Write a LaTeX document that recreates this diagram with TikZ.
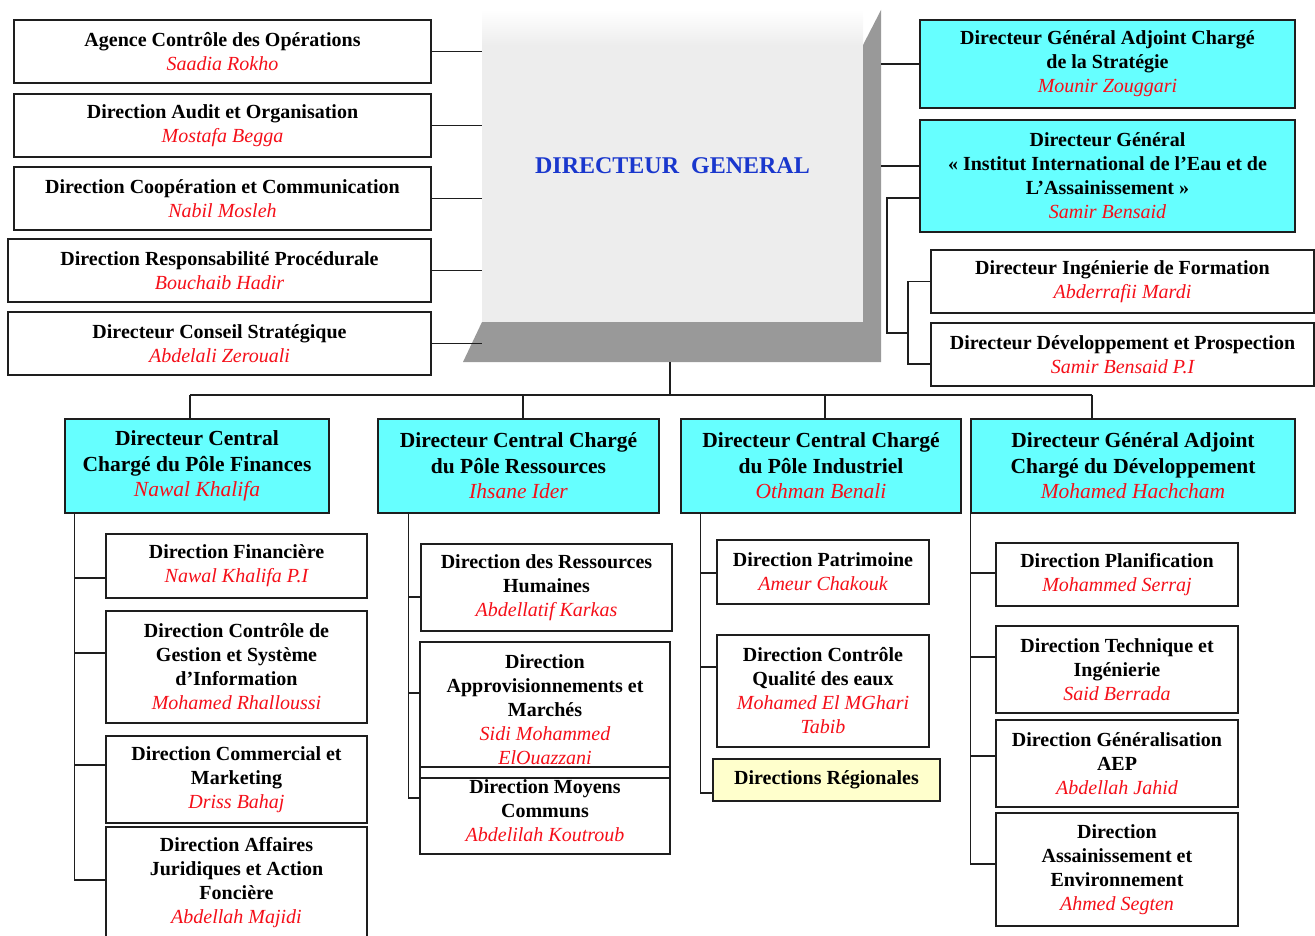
\documentclass[tikz,border=0pt]{standalone}
\usepackage{fontspec}
\setmainfont{Liberation Serif}
\definecolor{cyanbox}{RGB}{102,255,255}
\definecolor{yelbox}{RGB}{255,255,204}
\definecolor{nred}{RGB}{245,15,25}
\definecolor{dgblue}{RGB}{25,55,205}
\definecolor{edge}{RGB}{30,30,30}
\newcommand{\pname}[1]{{\mdseries\itshape\color{nred}#1}}
\begin{document}
\begin{tikzpicture}[x=1pt,y=-1pt,
  box/.style={draw=edge,line width=1.5pt,fill=white,align=center,inner sep=0pt,font=\fontsize{20}{24}\selectfont\bfseries},
  cbox/.style={box,fill=cyanbox},
  hbox/.style={cbox,font=\fontsize{21.5}{25.5}\selectfont\bfseries},
  link/.style={draw=edge,line width=1.5pt}]
\useasboundingbox (0,0) rectangle (1315,936);

% ---- Directeur General block (3D panel)
\fill[black!40] (863,45) -- (881,10) -- (881,362) -- (463,362) -- (482,322) -- (863,322) -- cycle;
\fill[gray!14] (482,45) rectangle (863,322);
\shade[top color=white, bottom color=gray!14] (482,10) rectangle (863,45);
\node[minimum width=381pt, minimum height=312pt, inner sep=0pt,
      font=\fontsize{24}{28}\selectfont\bfseries, text=dgblue] (dg) at (672.5,166) {DIRECTEUR\ \ GENERAL};

% ---- left column
\node[box, minimum width=417pt, minimum height=63pt] (agence) at (222.5,51.5)
  {Agence Contrôle des Opérations\\\pname{Saadia Rokho}};
\node[box, minimum width=417pt, minimum height=63pt] (audit) at (222.5,125.5)
  {Direction Audit et Organisation\\\pname{Mostafa Begga}};
\node[box, minimum width=417pt, minimum height=63pt] (coop) at (222.5,198.5)
  {Direction Coopération et Communication\\\pname{Nabil Mosleh}};
\node[box, minimum width=423pt, minimum height=63pt] (resp) at (219.5,270.5)
  {Direction Responsabilité Procédurale\\\pname{Bouchaib Hadir}};
\node[box, minimum width=423pt, minimum height=63pt] (conseil) at (219.5,343.5)
  {Directeur Conseil Stratégique\\\pname{Abdelali Zerouali}};

\foreach \n in {agence,audit,coop,resp,conseil}
  \draw[link] (\n.east) -- (\n.east -| dg.west);

% ---- right column
\node[cbox, minimum width=375pt, minimum height=88pt] (strat) at (1107.5,64)
  {Directeur Général Adjoint Chargé\\de la Stratégie\\\pname{Mounir Zouggari}};
\node[cbox, minimum width=375pt, minimum height=112pt] (iiea) at (1107.5,176)
  {Directeur Général\\« Institut International de l’Eau et de\\L’Assainissement »\\\pname{Samir Bensaid}};
\node[box, minimum width=383pt, minimum height=63pt] (ing) at (1122.5,281.5)
  {Directeur Ingénierie de Formation\\\pname{Abderrafii Mardi}};
\node[box, minimum width=383pt, minimum height=63pt] (devp) at (1122.5,354.5)
  {Directeur Développement et Prospection\\\pname{Samir Bensaid P.I}};

\coordinate (dgR) at (881,0);
\draw[link] (strat.west) -- (strat.west -| dgR);
\draw[link] ([yshift=10pt]iiea.west) -- ([yshift=10pt]iiea.west -| dgR);
\coordinate (j1) at (887,333);
\coordinate (j2) at (908,333);
\draw[link] ([yshift=-22pt]iiea.west) -| (j1) -- (j2);
\draw[link] (ing.west) -| (j2);
\draw[link] ([yshift=-9.5pt]devp.west) -| (j2);

% ---- second level
\node[hbox, minimum width=264pt, minimum height=94pt] (fin) at (197,466)
  {Directeur Central\\Chargé du Pôle Finances\\\pname{Nawal Khalifa}};
\node[hbox, minimum width=281pt, minimum height=94pt] (res) at (518.5,466)
  {Directeur Central Chargé\\du Pôle Ressources\\\pname{Ihsane Ider}};
\node[hbox, minimum width=280pt, minimum height=94pt] (ind) at (821,466)
  {Directeur Central Chargé\\du Pôle Industriel\\\pname{Othman Benali}};
\node[hbox, minimum width=324pt, minimum height=94pt] (dev) at (1133,466)
  {Directeur Général Adjoint\\Chargé du Développement\\\pname{Mohamed Hachcham}};

\coordinate (dgbot) at (670,362);
\coordinate (b1) at (190,395);
\coordinate (b2) at (523,395);
\coordinate (b3) at (825,395);
\coordinate (b4) at (1092,395);
\draw[link] (dgbot) -- (dgbot |- b1);
\draw[link] (b1) -- (b4);
\draw[link] (b1) -- (b1 |- fin.north);
\draw[link] (b2) -- (b2 |- res.north);
\draw[link] (b3) -- (b3 |- ind.north);
\draw[link] (b4) -- (b4 |- dev.north);

% ---- Finances
\node[box, minimum width=261pt, minimum height=64pt] (dfin) at (236.5,566)
  {Direction Financière\\\pname{Nawal Khalifa P.I}};
\node[box, minimum width=261pt, minimum height=112pt] (dcg) at (236.5,667)
  {Direction Contrôle de\\Gestion et Système\\d’Information\\\pname{Mohamed Rhalloussi}};
\node[box, minimum width=261pt, minimum height=87pt] (dcom) at (236.5,779.5)
  {Direction Commercial et\\Marketing\\\pname{Driss Bahaj}};
\node[box, minimum width=261pt, minimum height=130pt] (daj) at (236.5,892)
  {Direction Affaires\\Juridiques et Action\\Foncière\\\pname{Abdellah Majidi}\\\mbox{}};
\coordinate (finv) at ([xshift=10pt]fin.south west);
\draw[link] (finv) |- ([yshift=-12pt]dfin.west);
\draw[link] (finv) |- ([yshift=14pt]dcg.west);
\draw[link] (finv) |- ([yshift=14.5pt]dcom.west);
\draw[link] (finv) |- ([yshift=12pt]daj.west);

% ---- Ressources
\node[box, minimum width=251pt, minimum height=87pt] (rh) at (546.5,587.5)
  {Direction des Ressources\\Humaines\\\pname{Abdellatif Karkas}};
\node[box, minimum width=250pt, minimum height=136pt] (appro) at (545,710)
  {Direction\\Approvisionnements et\\Marchés\\\pname{Sidi Mohammed}\\\pname{ElOuazzani}};
\node[box, fill=none, minimum width=250pt, minimum height=87pt] (moy) at (545,810.5)
  {Direction Moyens\\Communs\\\pname{Abdelilah Koutroub}};
\coordinate (resv) at ([xshift=31pt]res.south west);
\draw[link] (resv) |- ([yshift=-9.5pt]rh.west);
\draw[link] (resv) |- ([yshift=17pt]appro.west);
\draw[link] (resv) |- ([yshift=12.5pt]moy.west);

% ---- Industriel
\node[box, minimum width=212pt, minimum height=64pt] (pat) at (823,572)
  {Direction Patrimoine\\\pname{Ameur Chakouk}};
\node[box, minimum width=212pt, minimum height=112pt] (cq) at (823,691)
  {Direction Contrôle\\Qualité des eaux\\\pname{Mohamed El MGhari}\\\pname{Tabib}};
\node[box, fill=yelbox, minimum width=227pt, minimum height=42pt] (reg) at (826.5,780)
  {Directions Régionales};
\coordinate (indv) at ([xshift=20pt]ind.south west);
\draw[link] (indv) |- ([yshift=-1pt]pat.west);
\draw[link] (indv) |- ([yshift=24pt]cq.west);
\draw[link] (indv) |- ([yshift=-13pt]reg.west);

% ---- Developpement
\node[box, minimum width=242pt, minimum height=63pt] (plan) at (1117,574.5)
  {Direction Planification\\\pname{Mohammed Serraj}};
\node[box, minimum width=242pt, minimum height=87pt] (tech) at (1117,669.5)
  {Direction Technique et\\Ingénierie\\\pname{Said Berrada}};
\node[box, minimum width=242pt, minimum height=87pt] (gen) at (1117,763.5)
  {Direction Généralisation\\AEP\\\pname{Abdellah Jahid}};
\node[box, minimum width=242pt, minimum height=113pt] (ass) at (1117,869.5)
  {Direction\\Assainissement et\\Environnement\\\pname{Ahmed Segten}};
\coordinate (devv) at (dev.south west);
\draw[link] (devv) |- ([yshift=1.5pt]plan.west);
\draw[link] (devv) |- ([yshift=12.5pt]tech.west);
\draw[link] (devv) |- ([yshift=7.5pt]gen.west);
\draw[link] (devv) |- ([yshift=5.5pt]ass.west);
\end{tikzpicture}
\end{document}
